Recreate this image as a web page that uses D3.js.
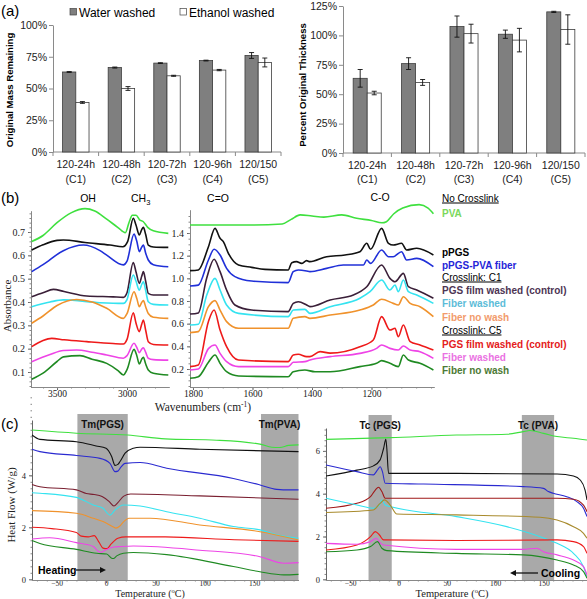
<!DOCTYPE html>
<html><head><meta charset="utf-8">
<script src="https://cdn.jsdelivr.net/npm/d3@7"></script>
<style>body{margin:0;background:#fff}svg{display:block}</style>
</head><body><svg id="c" width="587" height="599"></svg>
<script>
// ---------------- (a) bar charts ----------------
const catTop = ["120-24h","120-48h","120-72h","120-96h","120/150"];
const catBottom = ["(C1)","(C2)","(C3)","(C4)","(C5)"];
const barSeries = ["Water washed","Ethanol washed"];
const massWater = [63, 66.5, 70, 72, 76];
const massWaterErr = [0.3, 0.4, 0.3, 0.3, 2.3];
const massEthanol = [39, 50, 60, 64.5, 70.5];
const massEthanolErr = [0.7, 1.5, 0.4, 0.5, 3.5];
const massTicks = [0, 25, 50, 75, 100];
const thickWater = [63.5, 76, 107.5, 101, 120];
const thickWaterErr = [7.5, 5, 9, 3.5, 0.5];
const thickEthanol = [51, 60, 101.5, 96, 105];
const thickEthanolErr = [1.5, 2.5, 8, 10, 12.5];
const thickTicks = [0, 25, 50, 75, 100, 125];

// ---------------- (b) FTIR ----------------
const sampleNames = ["PVA","pPGS","pPGS-PVA fiber","PGS film washed (control)","Fiber washed","Fiber no wash","PGS film washed (control)","Fiber washed","Fiber no wash"];
const legendHeads = ["No Crosslink","Crosslink: C1","Crosslink: C5"];
const bandLabels = ["OH","C=O","C-O"];
const hiTicks = [3500, 3000];
const loTicks = [1800, 1600, 1400, 1200];
// high wavenumber region [wavenumber, absorbance]
const hiPVA = [[3681,0.659],[3600,0.685],[3500,0.74],[3400,0.782],[3300,0.8],[3230,0.79],[3145,0.755],[3062,0.718],[3012,0.697],[2985,0.742],[2962,0.772],[2935,0.772],[2910,0.752],[2885,0.745],[2852,0.72],[2812,0.705],[2705,0.694]];
const hiPPGS = [[3681,0.623],[3600,0.645],[3500,0.664],[3455,0.666],[3300,0.655],[3121,0.644],[3030,0.637],[2995,0.66],[2955,0.759],[2936,0.73],[2912,0.687],[2895,0.71],[2883,0.72],[2867,0.69],[2848,0.644],[2812,0.636],[2705,0.634]];
const hiFiber = [[3681,0.53],[3600,0.56],[3455,0.62],[3312,0.644],[3193,0.62],[3145,0.601],[3026,0.559],[3000,0.575],[2950,0.691],[2930,0.66],[2912,0.616],[2895,0.635],[2883,0.644],[2867,0.61],[2848,0.58],[2812,0.56],[2705,0.551]];
const hiC1Film = [[3681,0.423],[3600,0.44],[3526,0.454],[3450,0.445],[3288,0.426],[3100,0.422],[3026,0.42],[3000,0.44],[2955,0.569],[2936,0.53],[2912,0.48],[2895,0.51],[2883,0.53],[2867,0.49],[2848,0.437],[2812,0.43],[2705,0.43]];
const hiC1Washed = [[3681,0.38],[3550,0.4],[3455,0.409],[3193,0.397],[3026,0.394],[3000,0.41],[2955,0.516],[2936,0.49],[2912,0.451],[2895,0.475],[2883,0.487],[2867,0.45],[2848,0.401],[2812,0.39],[2705,0.387]];
const hiC1NoWash = [[3681,0.309],[3600,0.34],[3500,0.385],[3360,0.411],[3250,0.4],[3145,0.373],[3026,0.33],[3000,0.35],[2950,0.444],[2930,0.415],[2912,0.38],[2895,0.398],[2883,0.406],[2867,0.38],[2848,0.351],[2812,0.335],[2705,0.33]];
const hiC5Film = [[3681,0.209],[3600,0.235],[3538,0.244],[3450,0.238],[3288,0.23],[3100,0.222],[3026,0.22],[3000,0.24],[2955,0.354],[2936,0.31],[2912,0.273],[2895,0.305],[2883,0.323],[2867,0.28],[2848,0.23],[2812,0.218],[2705,0.216]];
const hiC5Washed = [[3681,0.144],[3550,0.175],[3455,0.192],[3360,0.194],[3250,0.185],[3145,0.173],[3026,0.159],[3000,0.17],[2950,0.223],[2930,0.205],[2912,0.183],[2895,0.198],[2883,0.204],[2867,0.185],[2848,0.159],[2812,0.153],[2705,0.151]];
const hiC5NoWash = [[3681,0.069],[3600,0.095],[3500,0.145],[3455,0.165],[3336,0.17],[3250,0.155],[3145,0.137],[3062,0.105],[3026,0.087],[3000,0.11],[2950,0.197],[2930,0.17],[2912,0.134],[2895,0.155],[2883,0.163],[2867,0.135],[2848,0.109],[2812,0.095],[2705,0.087]];
// fingerprint region
const loPVA = [[1810,1.47],[1600,1.47],[1500,1.48],[1470,1.52],[1440,1.56],[1400,1.55],[1360,1.54],[1300,1.56],[1250,1.53],[1200,1.51],[1165,1.49],[1150,1.5],[1125,1.57],[1095,1.62],[1040,1.65],[1010,1.62],[992,1.57]];
const loPPGS = [[1810,1.068],[1782,1.074],[1748,1.279],[1726,1.441],[1709,1.353],[1698,1.324],[1681,1.221],[1647,1.118],[1603,1.097],[1558,1.079],[1480,1.074],[1468,1.138],[1452,1.147],[1435,1.132],[1418,1.156],[1407,1.147],[1351,1.191],[1289,1.206],[1239,1.235],[1216,1.309],[1203,1.256],[1166,1.441],[1143,1.309],[1127,1.294],[1099,1.309],[1082,1.25],[1048,1.265],[992,1.206]];
const loFiber = [[1810,0.932],[1782,0.94],[1748,1.162],[1729,1.256],[1709,1.206],[1687,1.088],[1659,1.015],[1603,0.976],[1480,0.962],[1463,1.059],[1446,1.074],[1418,1.065],[1407,1.059],[1351,1.088],[1295,1.118],[1227,1.118],[1216,1.162],[1203,1.132],[1166,1.25],[1143,1.191],[1127,1.191],[1099,1.235],[1082,1.162],[1048,1.176],[992,1.103]];
const loC1Film = [[1810,0.685],[1782,0.695],[1754,1.0],[1729,1.168],[1709,1.059],[1687,0.897],[1659,0.765],[1603,0.72],[1480,0.706],[1463,0.779],[1446,0.794],[1418,0.765],[1407,0.75],[1339,0.809],[1261,0.853],[1216,0.926],[1166,1.118],[1138,1.0],[1121,0.97],[1093,1.044],[1076,0.926],[1048,0.897],[992,0.824]];
const loC1Washed = [[1810,0.588],[1782,0.595],[1754,0.85],[1726,1.0],[1709,0.897],[1687,0.765],[1647,0.691],[1480,0.662],[1463,0.72],[1424,0.726],[1407,0.691],[1339,0.75],[1239,0.824],[1205,0.882],[1166,0.985],[1138,0.897],[1121,0.941],[1110,0.882],[1093,0.985],[1076,0.882],[1048,0.853],[992,0.779]];
const loC1NoWash = [[1810,0.521],[1782,0.53],[1748,0.75],[1726,0.803],[1709,0.72],[1687,0.618],[1647,0.559],[1480,0.559],[1463,0.647],[1424,0.662],[1407,0.647],[1339,0.676],[1239,0.72],[1194,0.765],[1166,0.815],[1127,0.779],[1110,0.765],[1093,0.838],[1070,0.779],[1037,0.75],[992,0.662]];
const loC5Film = [[1810,0.221],[1782,0.236],[1748,0.62],[1729,0.72],[1709,0.544],[1687,0.397],[1647,0.279],[1480,0.265],[1463,0.324],[1446,0.33],[1418,0.309],[1407,0.309],[1373,0.353],[1339,0.34],[1239,0.397],[1194,0.456],[1166,0.662],[1138,0.544],[1121,0.559],[1110,0.485],[1093,0.588],[1070,0.441],[1037,0.412],[992,0.368]];
const loC5Washed = [[1810,0.191],[1782,0.2],[1748,0.38],[1726,0.412],[1709,0.338],[1687,0.265],[1647,0.221],[1480,0.221],[1463,0.259],[1424,0.265],[1407,0.279],[1339,0.309],[1239,0.338],[1183,0.382],[1166,0.412],[1138,0.382],[1110,0.368],[1093,0.403],[1070,0.368],[1037,0.353],[992,0.294]];
const loC5NoWash = [[1810,0.118],[1782,0.132],[1748,0.26],[1726,0.324],[1709,0.25],[1687,0.176],[1647,0.138],[1480,0.132],[1463,0.176],[1424,0.191],[1390,0.176],[1339,0.176],[1239,0.221],[1183,0.25],[1166,0.274],[1138,0.25],[1110,0.221],[1093,0.324],[1076,0.279],[1037,0.25],[992,0.191]];

// ---------------- (c) DSC [temperature, heat flow] ----------------
const dscTicks = [-50, 0, 50, 100, 150];
const heatPVA = [[-75,5.74],[-30,5.62],[22,5.55],[60,5.4],[112,5.35],[156,5.2],[168,5.08],[176,5.07],[185,5.15],[195,5.17]];
const heatPPGS = [[-75,5.55],[-67,5.38],[-30,5.29],[-10,5.13],[0,5.04],[5.7,4.72],[9.1,4.38],[12,4.42],[14.2,4.53],[19.3,4.85],[27.7,5.04],[34.5,5.08],[95,5.0],[195,4.91]];
const heatFiber = [[-75,5.0],[-67,4.91],[-30,4.76],[-6,4.65],[4,4.46],[9.1,4.14],[12,4.16],[14.2,4.27],[19.3,4.46],[34.5,4.49],[61.5,4.27],[129,3.88],[156,3.63],[173,3.46],[186,3.44],[195,3.44]];
const heatC1Film = [[-75,3.65],[-67,3.56],[-30,3.44],[-20,3.3],[-12,3.26],[-4,3.18],[3,3.0],[8,2.82],[12,2.95],[18,3.2],[25,3.28],[95,3.21],[195,3.08]];
const heatC1Washed = [[-75,3.33],[-67,3.31],[-30,3.15],[-13,2.86],[-3,2.73],[4,2.47],[9,2.66],[17.6,2.86],[34.5,2.82],[61.5,2.6],[95,2.35],[129,2.03],[156,1.9],[173,1.71],[195,1.58]];
const heatC1NoWash = [[-75,2.64],[-30,2.54],[-13,2.35],[-3,2.22],[7,2.02],[10,1.97],[14,2.05],[18,2.22],[23,2.35],[44.6,2.35],[95,2.09],[156,1.83],[195,1.51]];
const heatC5Film = [[-75,2.0],[-55,1.95],[-30,1.8],[-25,1.66],[-18,1.63],[-12,1.68],[-7,1.42],[-3,1.2],[1,1.18],[5,1.35],[12,1.58],[20,1.63],[60,1.63],[130,1.52],[195,1.46]];
const heatC5Washed = [[-75,1.55],[-57,1.6],[-30,1.41],[-13,1.26],[-8,1.08],[-5,1.04],[-1,1.12],[8,1.24],[15,1.26],[27.7,1.28],[95,1.12],[156,0.87],[180,0.62],[195,0.64]];
const heatC5NoWash = [[-75,1.49],[-67,1.38],[-30,1.15],[-9.5,1.0],[0.7,0.97],[5.7,0.81],[7.5,0.8],[10.8,0.9],[17.6,1.0],[27.7,1.03],[61.5,0.95],[129,0.49],[156,0.29],[180,0.17],[195,0.19]];
const coolPVA = [[-75,6.54],[-8.6,6.62],[60,6.74],[112,6.78],[129,6.9],[136,6.95],[150,6.82],[164,6.67],[181,6.59],[195,6.51]];
const coolPPGS = [[-75,4.83],[-43,5.1],[-26,5.3],[-19,5.58],[-15.5,6.1],[-13.1,6.54],[-12.1,6.12],[-10.3,4.95],[-8.6,4.95],[60,4.95],[164,4.92],[181,4.83],[188,4.64],[193,4.17],[195,3.71]];
const coolFiber = [[-75,5.34],[-43,5.03],[-26,4.88],[-21.7,5.11],[-19,5.26],[-16.6,5.03],[-13.8,4.49],[26,4.45],[129,4.33],[150,4.25],[155,4.1],[160,4.02],[174,3.86],[184.5,3.63],[191.4,3.32],[195,2.93]];
const coolC1Film = [[-75,3.32],[-43,3.55],[-29,3.86],[-24,4.17],[-20.7,4.3],[-17.2,4.1],[-13.8,3.79],[-8.6,3.79],[164,3.79],[181,3.74],[191.4,3.47],[195,3.16]];
const coolC1Washed = [[-75,3.79],[-43,3.47],[-26,3.32],[-19.7,3.47],[-17.2,3.71],[-13.8,3.47],[-8.6,3.4],[60,2.93],[112,2.46],[146.6,1.99],[164,1.68],[181,1.21],[191.4,0.59],[195,0.12]];
const coolC1NoWash = [[-75,3.12],[-26,3.24],[-19,3.55],[-14.5,3.71],[-8.6,3.47],[-1.7,3.05],[60,3.01],[146.6,2.9],[164,2.77],[181,2.46],[191.4,2.15],[195,1.92]];
const coolC5Film = [[-75,1.37],[-43,1.6],[-29,1.99],[-24,2.23],[-19.7,2.07],[-15.5,1.84],[60,1.81],[164,1.84],[181,1.76],[191.4,1.53],[195,1.21]];
const coolC5Washed = [[-75,1.68],[-43,1.64],[-29,1.76],[-23,1.92],[-19,1.71],[-15.5,1.6],[60,1.4],[129,1.4],[143,1.45],[150,1.29],[164,1.14],[181,0.9],[191.4,0.59],[195,0.2]];
const coolC5NoWash = [[-75,1.29],[-43,1.37],[-29,1.53],[-21.7,1.76],[-17.2,1.45],[-12.1,1.34],[60,1.21],[129,1.14],[164,0.9],[181,0.67],[191.4,0.36],[195,0.05]];
const heatBands = [[-29, 22, "Tm(PGS)"], [157, 195, "Tm(PVA)"]];
const coolBands = [[-31, -7, "Tc (PGS)"], [127.6, 161, "Tc (PVA)"]];

// ================= drawing =================
const SANS = "'Liberation Sans', Arial, sans-serif";
const SERIF = "'Liberation Serif', 'Times New Roman', serif";
const svg = d3.select("#c");
function txt(g, x, y, s, o = {}) {
  return g.append("text").attr("x", x).attr("y", y).text(s)
    .attr("font-family", o.ff || SANS).attr("font-size", o.fs || 11)
    .attr("font-weight", o.fw || "normal").attr("fill", o.fill || "#000")
    .attr("text-anchor", o.anchor || "start");
}
function styleAxis(a, ff, fs, col) {
  a.attr("font-family", ff).attr("font-size", fs);
  a.select(".domain").attr("stroke", col);
  a.selectAll(".tick line").attr("stroke", col);
  a.selectAll(".tick text").attr("fill", "#222");
  return a;
}

txt(svg, 1, 16, "(a)", {fs: 15});
txt(svg, 1, 203, "(b)", {fs: 15});
txt(svg, 1, 429, "(c)", {fs: 15});

// legend (a)
const fills = ["#7f7f7f", "#ffffff"];
const legX = [70, 180];
barSeries.forEach((s, i) => {
  svg.append("rect").attr("x", legX[i]).attr("y", 8.5).attr("width", 6.5).attr("height", 6.5)
    .attr("fill", fills[i]).attr("stroke", "#444").attr("stroke-width", 0.7);
  txt(svg, legX[i] + 9, 16.5, s, {fs: 12});
});

function barChart(c) {
  const g = svg.append("g");
  const x = d3.scaleBand().domain(d3.range(catTop.length)).range([c.left, c.right]);
  const xs = d3.scaleBand().domain([0, 1]).range([x.bandwidth() * 0.21, x.bandwidth() * 0.79]);
  const y = d3.scaleLinear().domain([0, c.max]).range([c.bottom, c.top]);
  const ya = g.append("g").attr("transform", `translate(${c.left},0)`)
    .call(d3.axisLeft(y).tickValues(c.ticks).tickFormat(d => d + "%").tickSize(4).tickSizeOuter(0));
  styleAxis(ya, SANS, 10.5, "#8a8a8a");
  ya.selectAll(".tick text").attr("x", -6);
  g.append("line").attr("x1", c.left).attr("x2", c.right).attr("y1", c.bottom).attr("y2", c.bottom).attr("stroke", "#8a8a8a");
  g.selectAll(null).data(d3.range(catTop.length + 1)).join("line")
    .attr("x1", i => i < catTop.length ? x(i) : c.right).attr("x2", i => i < catTop.length ? x(i) : c.right)
    .attr("y1", c.bottom).attr("y2", c.bottom + 4).attr("stroke", "#8a8a8a");
  [[c.w, c.we], [c.e, c.ee]].forEach(([vals, errs], si) => {
    g.selectAll(null).data(vals).join("rect")
      .attr("x", (d, i) => x(i) + xs(si)).attr("y", d => y(d))
      .attr("width", xs.bandwidth()).attr("height", d => c.bottom - y(d))
      .attr("fill", fills[si]).attr("stroke", "#3c3c3c").attr("stroke-width", 0.8);
    const cx = i => x(i) + xs(si) + xs.bandwidth() / 2;
    g.selectAll(null).data(vals).join("path")
      .attr("d", (d, i) => `M${cx(i)},${y(d + errs[i])}V${y(d - errs[i])}M${cx(i) - 2.5},${y(d + errs[i])}h5M${cx(i) - 2.5},${y(d - errs[i])}h5`)
      .attr("stroke", "#111").attr("stroke-width", 0.9).attr("fill", "none");
  });
  catTop.forEach((t, i) => {
    txt(g, x(i) + x.bandwidth() / 2, c.lab1, t, {fs: 10.5, anchor: "middle", fill: "#222"});
    txt(g, x(i) + x.bandwidth() / 2, c.lab2, catBottom[i], {fs: 10.5, anchor: "middle", fill: "#222"});
  });
  g.append("text").attr("transform", `translate(${c.titleX},${c.titleY}) rotate(-90)`)
    .attr("text-anchor", "middle").attr("font-family", SANS).attr("font-size", 9.6).attr("font-weight", "bold")
    .text(c.title);
}
barChart({left: 53, right: 281, top: 25, bottom: 152, max: 100, ticks: massTicks,
  w: massWater, we: massWaterErr, e: massEthanol, ee: massEthanolErr,
  title: "Original Mass Remaining", titleX: 13, titleY: 90, lab1: 168, lab2: 182.5});
barChart({left: 343, right: 585, top: 6, bottom: 153, max: 125, ticks: thickTicks,
  w: thickWater, we: thickWaterErr, e: thickEthanol, ee: thickEthanolErr,
  title: "Percent Original Thickness", titleX: 306, titleY: 85, lab1: 169, lab2: 182.5});

// ---- (b) FTIR ----
const ftirCols = ["#3fe03f", "#111111", "#2030d8", "#3a1f38", "#35e3f0", "#f0922c", "#ee1a1a", "#ee44e6", "#1f8a22"];
const legendCols = ["#7bd85c", "#000000", "#2525d8", "#4d3554", "#5cbcd8", "#f29b6c", "#e42020", "#ea72e2", "#4c7a35"];
const hiData = [hiPVA, hiPPGS, hiFiber, hiC1Film, hiC1Washed, hiC1NoWash, hiC5Film, hiC5Washed, hiC5NoWash];
const loData = [loPVA, loPPGS, loFiber, loC1Film, loC1Washed, loC1NoWash, loC5Film, loC5Washed, loC5NoWash];

function extend(s, r0, r1) { const d0 = s.invert(r0), d1 = s.invert(r1); return s.domain([d0, d1]).range([r0, r1]); }
const gF = svg.append("g");
const xHi = d3.scaleLinear().domain([3686, 2700]).range([31, 169]);
const yHi = extend(d3.scaleLinear().domain([0.1, 0.7]).range([372, 232]), 387, 211);
const xLo = d3.scaleLinear().domain([1810, 990]).range([190, 434]);
const yLo = extend(d3.scaleLinear().domain([0.2, 1.4]).range([369, 233]), 387, 210);

function ftirAxes(xs, ys, x0, yTicks, yMinor, xTicks, xMinor) {
  const a1 = gF.append("g").attr("transform", `translate(${x0},0)`)
    .call(d3.axisLeft(ys).tickValues(yTicks).tickFormat(d3.format(".1f")).tickSize(3).tickSizeOuter(0));
  styleAxis(a1, SERIF, 10, "#666");
  const a2 = gF.append("g").attr("transform", `translate(${x0},0)`)
    .call(d3.axisLeft(ys).tickValues(yMinor).tickFormat("").tickSize(1.5).tickSizeOuter(0));
  styleAxis(a2, SERIF, 10, "#888");
  const a3 = gF.append("g").attr("transform", `translate(0,387)`)
    .call(d3.axisBottom(xs).tickValues(xTicks).tickFormat(d3.format("d")).tickSize(3).tickSizeOuter(0));
  styleAxis(a3, SERIF, 9.5, "#666");
  a3.selectAll(".tick text").attr("y", 3).attr("dy", "0.71em");
  const a4 = gF.append("g").attr("transform", `translate(0,387)`)
    .call(d3.axisBottom(xs).tickValues(xMinor).tickFormat("").tickSize(1.5).tickSizeOuter(0));
  styleAxis(a4, SERIF, 10, "#888");
}
ftirAxes(xHi, yHi, 31, d3.range(1, 8).map(d => d / 10), d3.range(2, 40).map(d => d / 50), hiTicks, d3.range(2800, 3700, 100));
ftirAxes(xLo, yLo, 190, d3.range(1, 8).map(d => d / 5), d3.range(1, 32).map(d => d / 20), loTicks, d3.range(1000, 1810, 50));

const lineHi = d3.line().x(d => xHi(d[0])).y(d => yHi(d[1])).curve(d3.curveMonotoneX);
const lineLo = d3.line().x(d => xLo(d[0])).y(d => yLo(d[1])).curve(d3.curveMonotoneX);
hiData.forEach((d, i) => gF.append("path").attr("d", lineHi(d)).attr("fill", "none").attr("stroke", ftirCols[i]).attr("stroke-width", 1.6));
loData.forEach((d, i) => gF.append("path").attr("d", lineLo(d)).attr("fill", "none").attr("stroke", ftirCols[i]).attr("stroke-width", 1.6));

txt(gF, 88, 202, bandLabels[0], {fs: 10.5, anchor: "middle"});
const ch = txt(gF, 131, 202, "CH", {fs: 10.5});
ch.append("tspan").attr("dy", 3).attr("font-size", 7.5).text("3");
txt(gF, 218, 202, bandLabels[1], {fs: 10.5, anchor: "middle"});
txt(gF, 380, 201, bandLabels[2], {fs: 10.5, anchor: "middle"});
gF.append("text").attr("transform", "translate(11,306) rotate(-90)").attr("text-anchor", "middle")
  .attr("font-family", SERIF).attr("font-size", 11).attr("fill", "#222").text("Absorbance");
const wl = txt(gF, 203, 411, "Wavenumbers (cm", {ff: SERIF, fs: 11.5, anchor: "middle", fill: "#222"});
wl.append("tspan").attr("dy", -4).attr("font-size", 7.5).text("-1");
wl.append("tspan").attr("dy", 4).text(")");

// legend (b)
const headY = [198, 277, 330];
const rowY = [213, 252, 265, 290, 303, 317, 344, 357, 370];
legendHeads.forEach((h, i) => {
  txt(gF, 442, headY[i] + 3.5, h, {fs: 10}).attr("text-decoration", "underline");
});
sampleNames.forEach((n, i) => {
  txt(gF, 442, rowY[i] + 3.5, n, {fs: 10, fw: "bold", fill: legendCols[i]});
});

// ---- (c) DSC ----
const dscColsHeat = ["#3fe03f", "#111111", "#2a2ad0", "#7a1f30", "#35e3f0", "#f0922c", "#ee1a1a", "#ee44e6", "#1f8a22"];
const dscColsCool = ["#3fe03f", "#111111", "#2a2ad0", "#a01818", "#35e3f0", "#a88a2c", "#ee1a1a", "#ee44e6", "#1f8a22"];
const heatData = [heatPVA, heatPPGS, heatFiber, heatC1Film, heatC1Washed, heatC1NoWash, heatC5Film, heatC5Washed, heatC5NoWash];
const coolData = [coolPVA, coolPPGS, coolFiber, coolC1Film, coolC1Washed, coolC1NoWash, coolC5Film, coolC5Washed, coolC5NoWash];

function dscPanel(c) {
  const g = svg.append("g");
  const x = d3.scaleLinear().domain([-75, 195]).range([c.x0, c.x1]);
  const y = extend(d3.scaleLinear().domain([0, 2]).range([579.3, 579.3 - c.perUnit * 2]), 580, c.yTop);
  c.bands.forEach(b => {
    g.append("rect").attr("x", x(b[0])).attr("y", c.bandTop).attr("width", x(b[1]) - x(b[0])).attr("height", 580 - c.bandTop).attr("fill", "#a9a9a9");
    txt(g, Math.min((x(b[0]) + x(b[1])) / 2, c.x1 - 19), c.bandTop + 14, b[2], {fs: 10, fw: "bold", anchor: "middle", fill: "#111"});
  });
  const ay = g.append("g").attr("transform", `translate(${c.x0},0)`)
    .call(d3.axisLeft(y).tickValues(c.yTicks).tickFormat(d3.format("d")).tickSize(3).tickSizeOuter(0));
  styleAxis(ay, SERIF, 8.5, "#666");
  const ay2 = g.append("g").attr("transform", `translate(${c.x0},0)`)
    .call(d3.axisLeft(y).tickValues(d3.range(0, 29).map(d => d / 4)).tickFormat("").tickSize(1.5).tickSizeOuter(0));
  styleAxis(ay2, SERIF, 8.5, "#888");
  ay2.select(".domain").remove();
  const ax = g.append("g").attr("transform", `translate(0,580)`)
    .call(d3.axisBottom(x).tickValues(dscTicks).tickFormat(d3.format("d")).tickSize(3).tickSizeOuter(0));
  styleAxis(ax, SERIF, 7.5, "#666");
  ax.selectAll(".tick text").attr("y", 0.5).attr("dy", "0.71em");
  const ax2 = g.append("g").attr("transform", `translate(0,580)`)
    .call(d3.axisBottom(x).tickValues(d3.range(-70, 200, 10)).tickFormat("").tickSize(1.5).tickSizeOuter(0));
  styleAxis(ax2, SERIF, 8, "#888");
  const line = d3.line().x(d => x(d[0])).y(d => y(d[1])).curve(d3.curveMonotoneX);
  c.data.forEach((d, i) => g.append("path").attr("d", line(d)).attr("fill", "none").attr("stroke", c.cols[i]).attr("stroke-width", 1.1));
  const tl = txt(g, c.tx, 596.8, "Temperature (", {ff: SERIF, fs: c.tfs, anchor: "middle", fill: "#222"});
  tl.append("tspan").attr("dy", -4).attr("font-size", 6.5).text("o");
  tl.append("tspan").attr("dy", 4).text("C)");
  return {g, x, y};
}
const heat = dscPanel({x0: 32, x1: 298.5, perUnit: 26, yTop: 420, bandTop: 414, bands: heatBands,
  yTicks: [0, 2, 4], data: heatData, cols: dscColsHeat, tx: 150, tfs: 10});
const cool = dscPanel({x0: 326, x1: 587, perUnit: 21.4, yTop: 428, bandTop: 415, bands: coolBands,
  yTicks: [0, 2, 4, 6], data: coolData, cols: dscColsCool, tx: 452, tfs: 10.5});
heat.g.append("text").attr("transform", "translate(15,505) rotate(-90)").attr("text-anchor", "middle")
  .attr("font-family", SERIF).attr("font-size", 11).attr("fill", "#222").text("Heat Flow (W/g)");

// arrows
txt(heat.g, 38, 574, "Heating", {fs: 10.5, fw: "bold"});
heat.g.append("path").attr("d", "M76,570H101").attr("stroke", "#111").attr("stroke-width", 1.3);
heat.g.append("path").attr("d", "M106,570l-6,-3v6z").attr("fill", "#111");
txt(cool.g, 541, 577, "Cooling", {fs: 10.5, fw: "bold"});
cool.g.append("path").attr("d", "M538,573H515").attr("stroke", "#111").attr("stroke-width", 1.3);
cool.g.append("path").attr("d", "M510,573l6,-3v6z").attr("fill", "#111");
</script></body></html>
